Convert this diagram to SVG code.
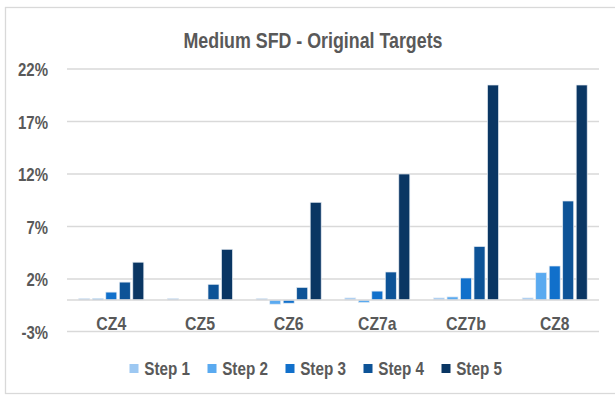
<svg xmlns="http://www.w3.org/2000/svg" width="615" height="396" viewBox="0 0 615 396">
  <style>
    text { font-family: "Liberation Sans Narrow", "Liberation Sans", Arial, sans-serif; font-weight: bold; fill: #595959; }
    .title { font-size: 22px; text-anchor: middle; }
    .ylab { font-size: 18.5px; text-anchor: end; }
    .xlab { font-size: 18.5px; text-anchor: middle; }
    .leg { font-size: 18px; }
    .grid { stroke: #d9d9d9; stroke-width: 1.3; fill: none; }
    .bar { stroke: #e4ebf3; stroke-width: 0.7; }
    .s1 { fill: #9dc8f2; }
    .s2 { fill: #5aaaf0; }
    .s3 { fill: #1170cb; }
    .s4 { fill: #0d5397; }
    .s5 { fill: #0a3663; }
  </style>

  <!-- chart frame -->
  <rect x="5.5" y="7.5" width="620" height="386" fill="#ffffff" stroke="#d9d9d9" stroke-width="1.3"/>

  <text class="title" x="313" y="48" textLength="259" lengthAdjust="spacingAndGlyphs">Medium SFD - Original Targets</text>

  <!-- value axis gridlines and labels -->
  <g id="value-axis">
    <line class="grid" x1="67" y1="69" x2="599" y2="69"/>
    <line class="grid" x1="67" y1="121.5" x2="599" y2="121.5"/>
    <line class="grid" x1="67" y1="174" x2="599" y2="174"/>
    <line class="grid" x1="67" y1="226.5" x2="599" y2="226.5"/>
    <line class="grid" x1="67" y1="279" x2="599" y2="279"/>
    <line class="grid" x1="67" y1="331.5" x2="599" y2="331.5"/>
    <text class="ylab" x="48" y="76" textLength="30" lengthAdjust="spacingAndGlyphs">22%</text>
    <text class="ylab" x="48" y="128.5" textLength="30" lengthAdjust="spacingAndGlyphs">17%</text>
    <text class="ylab" x="48" y="181" textLength="30" lengthAdjust="spacingAndGlyphs">12%</text>
    <text class="ylab" x="48" y="233.5" textLength="21.5" lengthAdjust="spacingAndGlyphs">7%</text>
    <text class="ylab" x="48" y="286" textLength="21.5" lengthAdjust="spacingAndGlyphs">2%</text>
    <text class="ylab" x="48" y="338.5" textLength="26.5" lengthAdjust="spacingAndGlyphs">-3%</text>
  </g>

  <!-- bars: zero at y=300, 10.5 px per percent -->
  <g id="CZ4">
    <rect class="bar s1" x="78.8" y="298.4" width="11" height="1.6"/>
    <rect class="bar s2" x="92.3" y="298.4" width="11" height="1.6"/>
    <rect class="bar s3" x="105.8" y="292.1" width="11" height="7.9"/>
    <rect class="bar s4" x="119.3" y="282.1" width="11" height="17.9"/>
    <rect class="bar s5" x="132.8" y="262.2" width="11" height="37.8"/>
    <text class="xlab" x="111.3" y="330" textLength="30" lengthAdjust="spacingAndGlyphs">CZ4</text>
  </g>
  <g id="CZ5">
    <rect class="bar s1" x="167.5" y="298.4" width="11" height="1.6"/>
    <rect class="bar s4" x="208" y="284.3" width="11" height="15.7"/>
    <rect class="bar s5" x="221.5" y="249.3" width="11" height="50.7"/>
    <text class="xlab" x="200" y="330" textLength="30" lengthAdjust="spacingAndGlyphs">CZ5</text>
  </g>
  <g id="CZ6">
    <rect class="bar s1" x="256.2" y="298.4" width="11" height="1.6"/>
    <rect class="bar s2" x="269.7" y="300" width="11" height="4.2"/>
    <rect class="bar s3" x="283.2" y="300" width="11" height="3.2"/>
    <rect class="bar s4" x="296.7" y="287.4" width="11" height="12.6"/>
    <rect class="bar s5" x="310.2" y="202.3" width="11" height="97.7"/>
    <text class="xlab" x="288.7" y="330" textLength="30" lengthAdjust="spacingAndGlyphs">CZ6</text>
  </g>
  <g id="CZ7a">
    <rect class="bar s1" x="344.8" y="297.9" width="11" height="2.1"/>
    <rect class="bar s2" x="358.3" y="300" width="11" height="2.6"/>
    <rect class="bar s3" x="371.8" y="291.1" width="11" height="8.9"/>
    <rect class="bar s4" x="385.3" y="272" width="11" height="28"/>
    <rect class="bar s5" x="398.8" y="174" width="11" height="126"/>
    <text class="xlab" x="377.3" y="330" textLength="38.5" lengthAdjust="spacingAndGlyphs">CZ7a</text>
  </g>
  <g id="CZ7b">
    <rect class="bar s1" x="433.5" y="297.9" width="11" height="2.1"/>
    <rect class="bar s2" x="447" y="296.9" width="11" height="3.1"/>
    <rect class="bar s3" x="460.5" y="278" width="11" height="22"/>
    <rect class="bar s4" x="474" y="246.5" width="11" height="53.5"/>
    <rect class="bar s5" x="487.5" y="85" width="11" height="215"/>
    <text class="xlab" x="466" y="330" textLength="40" lengthAdjust="spacingAndGlyphs">CZ7b</text>
  </g>
  <g id="CZ8">
    <rect class="bar s1" x="522.2" y="297.9" width="11" height="2.1"/>
    <rect class="bar s2" x="535.7" y="272.7" width="11" height="27.3"/>
    <rect class="bar s3" x="549.2" y="266" width="11" height="34"/>
    <rect class="bar s4" x="562.7" y="201" width="11" height="99"/>
    <rect class="bar s5" x="576.2" y="85" width="11" height="215"/>
    <text class="xlab" x="554.7" y="330" textLength="29.5" lengthAdjust="spacingAndGlyphs">CZ8</text>
  </g>

  <!-- category axis line -->
  <line class="grid" x1="67" y1="300" x2="599" y2="300"/>

  <!-- legend -->
  <g id="legend">
    <rect class="s1" x="129.5" y="364" width="9" height="9"/>
    <text class="leg" x="144.3" y="374.5" textLength="45.7" lengthAdjust="spacingAndGlyphs">Step 1</text>
    <rect class="s2" x="207.5" y="364" width="9" height="9"/>
    <text class="leg" x="222.2" y="374.5" textLength="45.7" lengthAdjust="spacingAndGlyphs">Step 2</text>
    <rect class="s3" x="285.5" y="364" width="9" height="9"/>
    <text class="leg" x="300.2" y="374.5" textLength="45.7" lengthAdjust="spacingAndGlyphs">Step 3</text>
    <rect class="s4" x="363.5" y="364" width="9" height="9"/>
    <text class="leg" x="378.3" y="374.5" textLength="45.7" lengthAdjust="spacingAndGlyphs">Step 4</text>
    <rect class="s5" x="441.5" y="364" width="9" height="9"/>
    <text class="leg" x="456.2" y="374.5" textLength="45.7" lengthAdjust="spacingAndGlyphs">Step 5</text>
  </g>
</svg>
